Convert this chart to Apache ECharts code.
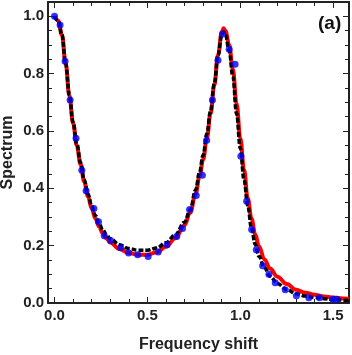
<!DOCTYPE html>
<html>
<head>
<meta charset="utf-8">
<script src="https://cdn.jsdelivr.net/npm/echarts@6/dist/echarts.min.js"></script>
<style>
html,body{margin:0;padding:0;background:#fff;}
#c{width:352px;height:355px;}
</style>
</head>
<body>
<div id="c"></div>
<script>
// ---- data ----
const curveX = [0.00,0.02,0.04,0.06,0.08,0.10,0.12,0.14,0.16,0.18,0.20,0.22,0.24,0.26,0.28,0.30,0.35,0.40,0.45,0.50,0.55,0.60,0.65,0.70,0.73,0.76,0.78,0.80,0.82,0.84,0.86,0.88,0.90,0.91,0.92,0.94,0.96,0.98,1.00,1.02,1.04,1.06,1.08,1.10,1.13,1.16,1.20,1.25,1.30,1.35,1.40,1.45,1.50,1.55,1.585];
const blackY = [1.000,0.985,0.935,0.835,0.725,0.630,0.555,0.490,0.430,0.380,0.340,0.305,0.277,0.255,0.238,0.224,0.203,0.190,0.184,0.184,0.192,0.210,0.238,0.282,0.325,0.395,0.455,0.515,0.590,0.670,0.765,0.865,0.935,0.946,0.935,0.880,0.790,0.660,0.540,0.430,0.340,0.262,0.205,0.163,0.123,0.093,0.068,0.047,0.032,0.024,0.019,0.015,0.012,0.010,0.009];
const redY = [1.000,0.985,0.935,0.835,0.723,0.627,0.550,0.484,0.423,0.372,0.330,0.295,0.266,0.243,0.225,0.211,0.188,0.175,0.168,0.168,0.177,0.196,0.226,0.272,0.315,0.382,0.440,0.500,0.575,0.660,0.760,0.865,0.945,0.958,0.950,0.900,0.815,0.695,0.575,0.465,0.365,0.295,0.240,0.198,0.152,0.120,0.092,0.066,0.046,0.036,0.029,0.023,0.019,0.016,0.015];
const dotX = [0.000,0.030,0.057,0.084,0.116,0.147,0.170,0.212,0.237,0.268,0.302,0.356,0.399,0.448,0.504,0.558,0.606,0.658,0.689,0.727,0.763,0.796,0.819,0.850,0.880,0.905,0.940,0.972,1.003,1.034,1.061,1.086,1.120,1.154,1.188,1.242,1.302,1.369,1.426,1.498,1.520];
const dotY = [1.000,0.970,0.843,0.708,0.575,0.463,0.392,0.330,0.283,0.235,0.218,0.193,0.174,0.168,0.162,0.178,0.203,0.232,0.260,0.326,0.375,0.446,0.568,0.708,0.847,0.938,0.885,0.833,0.512,0.355,0.256,0.186,0.130,0.100,0.071,0.046,0.025,0.018,0.018,0.013,0.013];
const xMajorTicks = [0, 0.5, 1.0, 1.5];
const xMinorTicks = [0,0.1,0.2,0.3,0.4,0.5,0.6,0.7,0.8,0.9,1.0,1.1,1.2,1.3,1.4,1.5];
const yMajorTicks = [0, 0.2, 0.4, 0.6, 0.8, 1.0];
const yMinorTicks = [0,0.05,0.1,0.15,0.2,0.25,0.3,0.35,0.4,0.45,0.5,0.55,0.6,0.65,0.7,0.75,0.8,0.85,0.9,0.95,1.0];
const xTitle = 'Frequency shift';
const yTitle = 'Spectrum';
const panelLabel = '(a)';

const FONT = '"Liberation Sans", Arial, sans-serif';
const X_MIN = -0.035, X_MAX = 1.585, Y_MIN = 0, Y_MAX = 1.05;
const lineCol = '#222';

function xAx(pos, ticks, len, showLine, labels, name) {
  return {
    type: 'value', position: pos, min: X_MIN, max: X_MAX,
    name: name || '', nameLocation: 'middle', nameGap: 34, nameMoveOverlap: false,
    nameTextStyle: {fontFamily: FONT, fontWeight: 'bold', fontSize: 16, color: '#222'},
    axisLine: {show: showLine, onZero: false, lineStyle: {color: lineCol, width: 2}},
    axisTick: {show: true, inside: true, length: len, customValues: ticks, lineStyle: {color: lineCol, width: 1}},
    axisLabel: labels ? {show: true, customValues: ticks, formatter: v => v.toFixed(1), fontFamily: FONT, fontWeight: 'bold', fontSize: 15, color: '#222', margin: 5} : {show: false},
    splitLine: {show: false}
  };
}
function yAx(pos, ticks, len, showLine, labels, name) {
  return {
    type: 'value', position: pos, min: Y_MIN, max: Y_MAX,
    name: name || '', nameLocation: 'middle', nameGap: 32, nameMoveOverlap: false,
    nameTextStyle: {fontFamily: FONT, fontWeight: 'bold', fontSize: 16, color: '#222'},
    axisLine: {show: showLine, onZero: false, lineStyle: {color: lineCol, width: 2}},
    axisTick: {show: true, inside: true, length: len, customValues: ticks, lineStyle: {color: lineCol, width: 1}},
    axisLabel: labels ? {show: true, customValues: ticks, formatter: v => v.toFixed(1), fontFamily: FONT, fontWeight: 'bold', fontSize: 15, color: '#222', margin: 4} : {show: false},
    splitLine: {show: false}
  };
}

const chart = echarts.init(document.getElementById('c'), null, {renderer: 'canvas'});
chart.setOption({
  animation: false,
  backgroundColor: '#fff',
  grid: {left: 48, right: 3, top: 2, bottom: 52, containLabel: false, outerBoundsMode: 'none'},
  xAxis: [
    xAx('bottom', xMajorTicks, 6, true, true, xTitle),
    xAx('bottom', xMinorTicks, 4, false, false),
    xAx('top', xMajorTicks, 6, true, false),
    xAx('top', xMinorTicks, 4, false, false)
  ],
  yAxis: [
    yAx('left', yMajorTicks, 6, true, true, yTitle),
    yAx('left', yMinorTicks, 4, false, false),
    yAx('right', yMajorTicks, 6, true, false),
    yAx('right', yMinorTicks, 4, false, false)
  ],
  graphic: [{
    type: 'text', left: 318, top: 14,
    style: {text: panelLabel, font: 'bold 19px ' + FONT, fill: '#111'}
  }],
  series: [
    {type: 'line', name: 'red', data: curveX.map((x, i) => [x, redY[i]]), showSymbol: false, smooth: 0.4, smoothMonotone: 'x',
     lineStyle: {color: '#ff0000', width: 4}, z: 2},
    {type: 'line', name: 'black', data: curveX.map((x, i) => [x, blackY[i]]), showSymbol: false, smooth: 0.4, smoothMonotone: 'x',
     lineStyle: {color: '#000', width: 3.5, type: [5, 2]}, z: 3},
    {type: 'scatter', name: 'dots', data: dotX.map((x, i) => [x, dotY[i]]), symbolSize: 7,
     itemStyle: {color: '#0000ff'}, z: 4}
  ]
});
</script>
</body>
</html>
